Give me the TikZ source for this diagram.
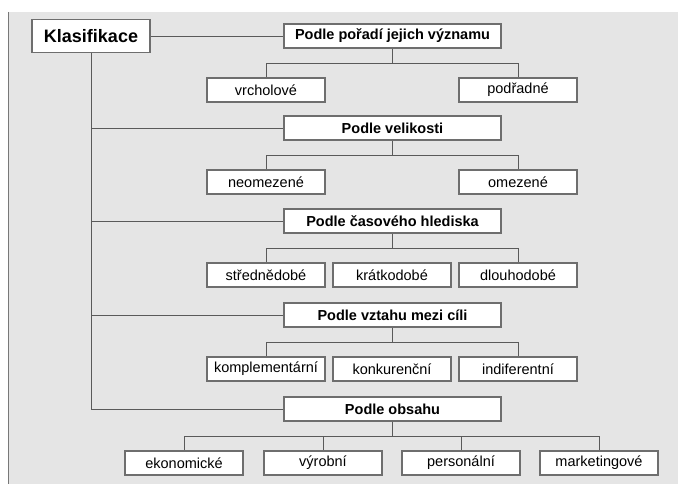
\documentclass[tikz,border=0pt]{standalone}
\usepackage{fontspec}
\setmainfont{Liberation Sans}
\usepackage{tikz}
\usetikzlibrary{positioning, calc}
\definecolor{panelgray}{RGB}{229, 229, 229}
\definecolor{edgegray}{RGB}{110, 110, 110}
\definecolor{linegray}{RGB}{90, 90, 90}
\definecolor{rulegray}{RGB}{120, 120, 120}

\tikzset{
  rootbox/.style={draw=edgegray, fill=white, line width=1.1pt, minimum width=118pt, minimum height=33pt, inner sep=0pt, font=\fontsize{18}{20}\selectfont\bfseries},
  groupbox/.style={draw=edgegray, fill=white, line width=1.1pt, minimum width=217pt, minimum height=24pt, inner sep=0pt, font=\fontsize{14.5}{16}\selectfont\bfseries},
  itembox/.style={draw=edgegray, fill=white, line width=1.1pt, minimum width=118pt, minimum height=24pt, inner sep=0pt, font=\fontsize{14.5}{16}\selectfont},
  link/.style={draw=linegray, line width=0.9pt}
}

\begin{document}
\begin{tikzpicture}[x=1pt, y=-1pt]
  \useasboundingbox (0,0) rectangle (678,484);
  % Panel
  \fill[panelgray] (9,12) rectangle (678,484);
  \draw[rulegray, line width=1.5pt] (8.5,12) -- (8.5,484);

  % Root
  \node[rootbox] (klas) at (91, 36) {Klasifikace};

  % Groups
  \node[groupbox] (vyznam) at (392.5, 36) {Podle pořadí jejich významu};
  \node[groupbox] (velikost) at (392.5, 128) {Podle velikosti};
  \node[groupbox] (cas) at (392.5, 221) {Podle časového hlediska};
  \node[groupbox] (vztah) at (392.5, 315) {Podle vztahu mezi cíli};
  \node[groupbox] (obsah) at (392.5, 409) {Podle obsahu};

  % Items
  \node[itembox] (vrch) at (266, 90) {vrcholové};
  \node[itembox] (podr) at (518, 90) {podřadné};

  \node[itembox] (neom) at (266, 182) {neomezené};
  \node[itembox] (omez) at (518, 182) {omezené};

  \node[itembox] (stred) at (266, 275) {střednědobé};
  \node[itembox] (krat) at (392, 275) {krátkodobé};
  \node[itembox] (dlouh) at (518, 275) {dlouhodobé};

  \node[itembox] (kompl) at (266, 369) {komplementární};
  \node[itembox] (konk) at (392, 369) {konkurenční};
  \node[itembox] (indif) at (518, 369) {indiferentní};

  \node[itembox] (ekon) at (184, 463) {ekonomické};
  \node[itembox] (vyrob) at (323, 463) {výrobní};
  \node[itembox] (pers) at (461, 463) {personální};
  \node[itembox] (mark) at (599, 463) {marketingové};

  % Trunk
  \draw[link] (klas.east) -- (vyznam.west);
  \draw[link] (klas.south) |- (obsah.west);
  \draw[link] (klas.south |- velikost.west) -- (velikost.west);
  \draw[link] (klas.south |- cas.west) -- (cas.west);
  \draw[link] (klas.south |- vztah.west) -- (vztah.west);

  % Branches
  \draw[link] (vyznam.south) -- ++(0,15) -| (vrch.north);
  \draw[link] (vyznam.south) -- ++(0,15) -| (podr.north);

  \draw[link] (velikost.south) -- ++(0,15) -| (neom.north);
  \draw[link] (velikost.south) -- ++(0,15) -| (omez.north);

  \draw[link] (cas.south) -- ++(0,15) -| (stred.north);
  \draw[link] (cas.south) -- ++(0,15) -| (dlouh.north);

  \draw[link] (vztah.south) -- ++(0,15) -| (kompl.north);
  \draw[link] (vztah.south) -- ++(0,15) -| (indif.north);

  \draw[link] (obsah.south) -- ++(0,15) -| (ekon.north);
  \draw[link] (obsah.south) -- ++(0,15) -| (vyrob.north);
  \draw[link] (obsah.south) -- ++(0,15) -| (pers.north);
  \draw[link] (obsah.south) -- ++(0,15) -| (mark.north);
\end{tikzpicture}
\end{document}
